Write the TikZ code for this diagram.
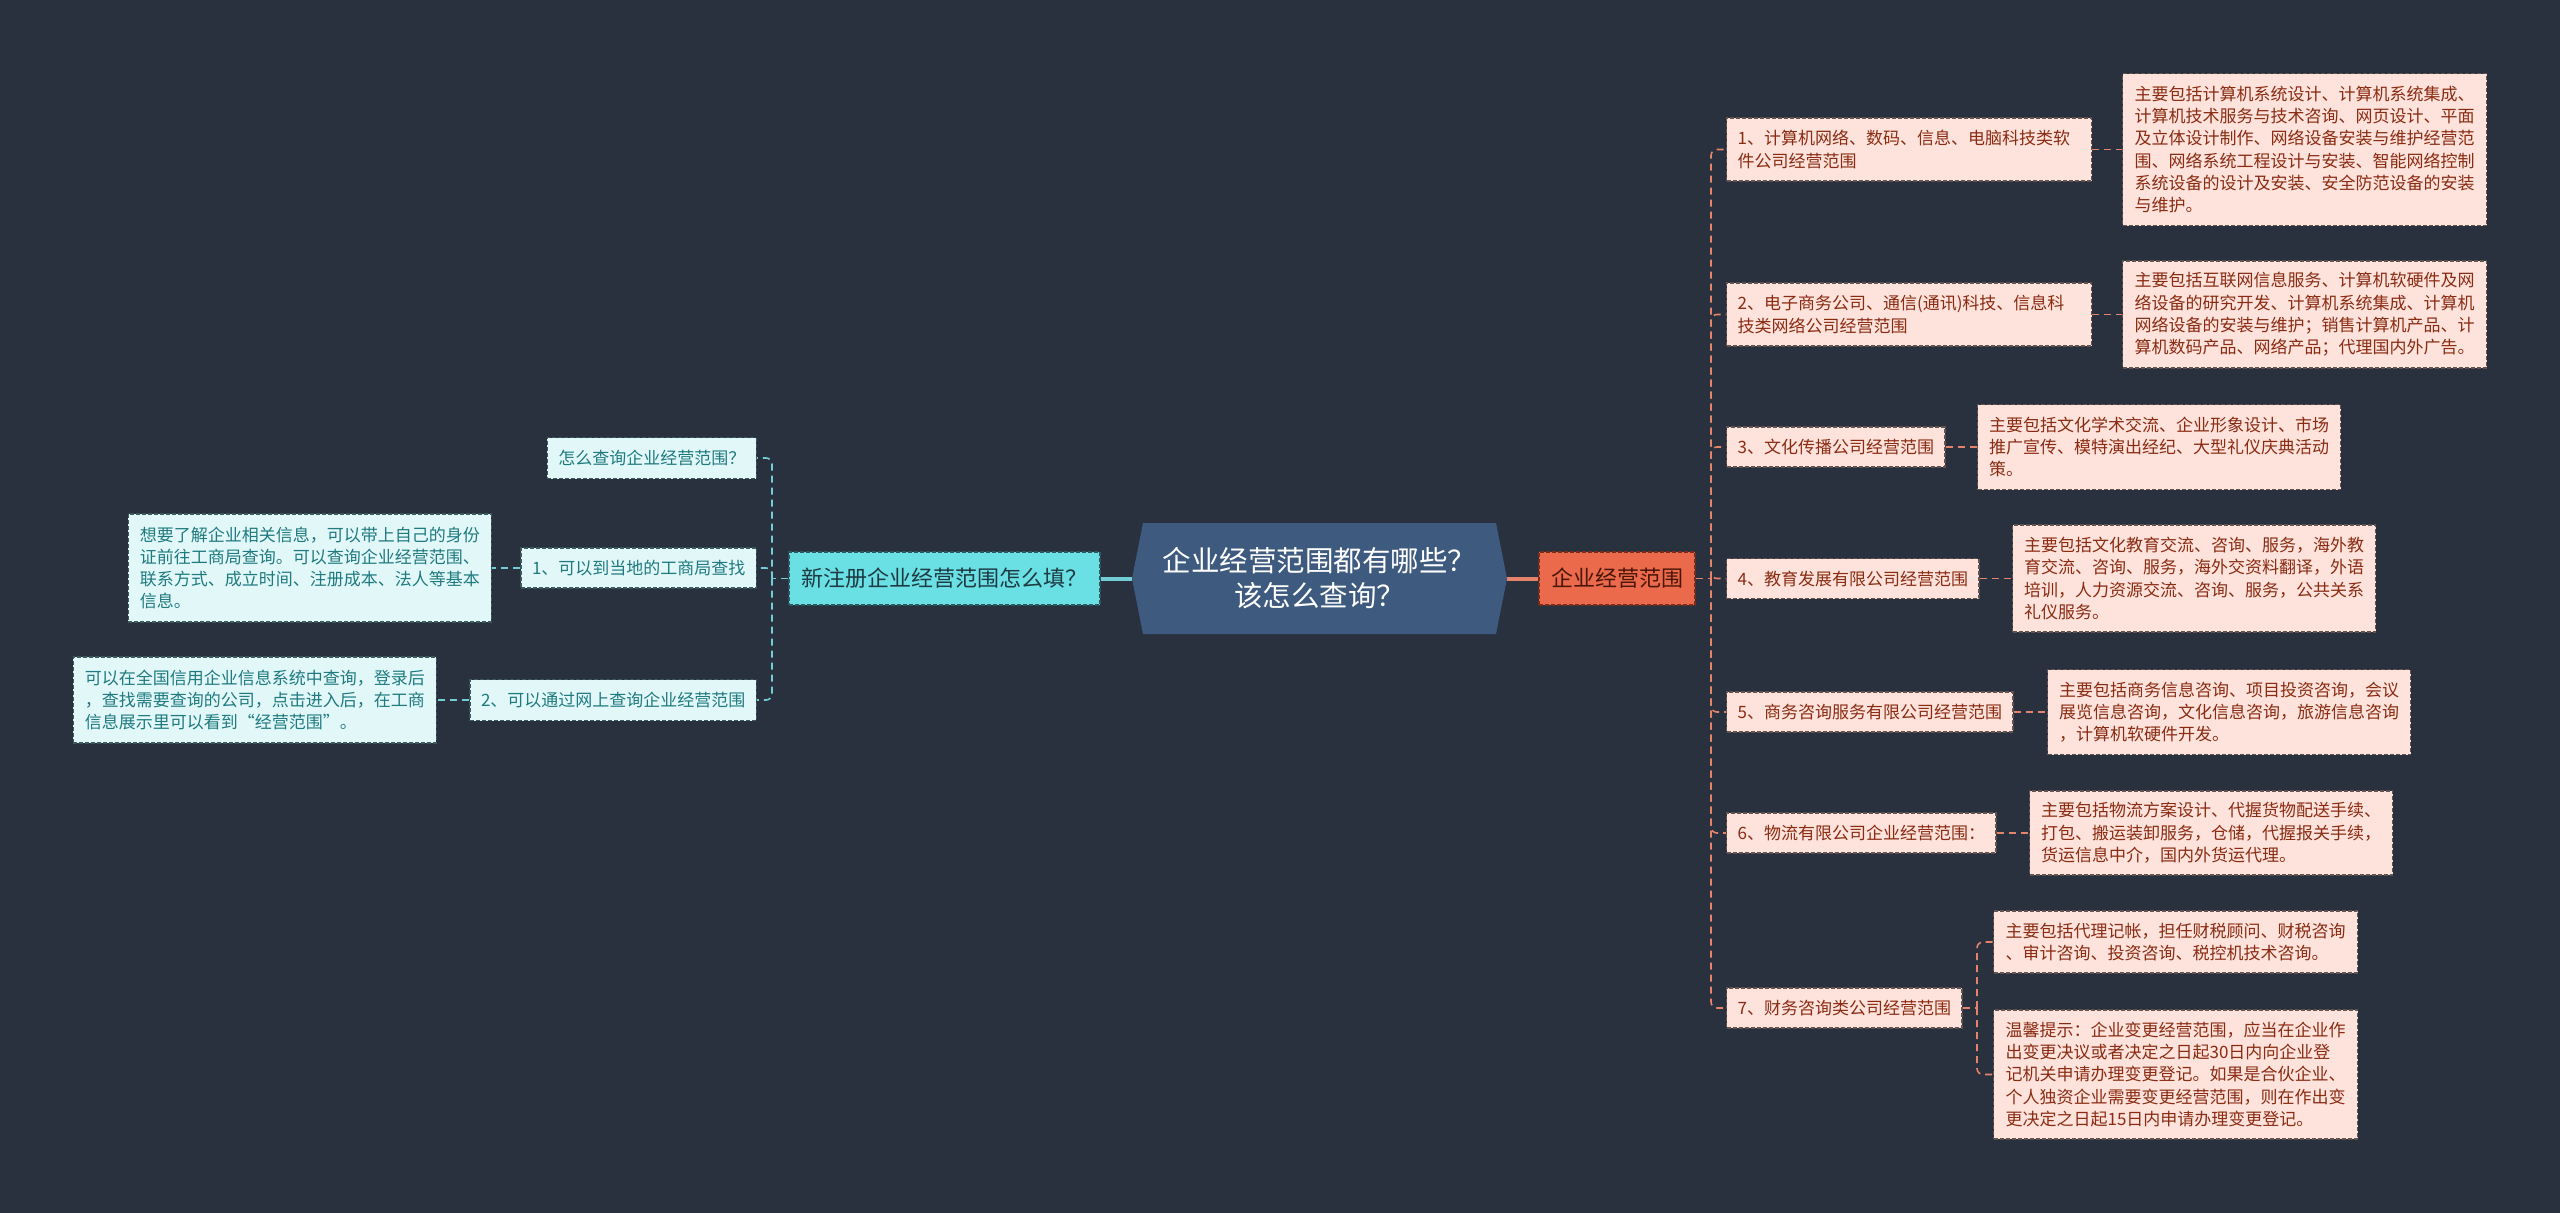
\documentclass[tikz,border=0pt]{standalone}
\usepackage{fontspec}
\setmainfont{Noto Sans CJK SC}
\XeTeXlinebreaklocale "zh"
\XeTeXlinebreakskip=0pt plus 1pt
\definecolor{bgc}{HTML}{29313F}
\definecolor{hexfill}{HTML}{3E5B7F}
\definecolor{cmainfill}{HTML}{6ADFE4}
\definecolor{cmainline}{HTML}{2C5860}
\definecolor{cmaintext}{HTML}{1E3A42}
\definecolor{omainfill}{HTML}{EB6A4B}
\definecolor{omainline}{HTML}{7A2C1A}
\definecolor{omaintext}{HTML}{4A1608}
\definecolor{pinkfill}{HTML}{FDE3DB}
\definecolor{pinkline}{HTML}{625250}
\definecolor{pinktext}{HTML}{8A2B12}
\definecolor{cyanfill}{HTML}{E2F8F8}
\definecolor{cyanline}{HTML}{3A5A5E}
\definecolor{cyantext}{HTML}{1F7A80}
\definecolor{rline}{HTML}{E5836B}
\definecolor{lline}{HTML}{73CDD6}
\begin{document}
\begin{tikzpicture}[x=1pt,y=-1pt,
  box/.style={draw, dash pattern=on 4pt off 2pt, line width=1.1pt, inner xsep=11pt, inner ysep=4pt, align=left, font=\fontsize{17}{22.3}\selectfont},
  pk/.style={box, fill=pinkfill, draw=pinkline, text=pinktext},
  cy/.style={box, fill=cyanfill, draw=cyanline, text=cyantext},
  rconn/.style={draw=rline, line width=1.6pt, dash pattern=on 7pt off 5pt, rounded corners=6pt},
  lconn/.style={draw=lline, line width=1.6pt, dash pattern=on 7pt off 5pt, rounded corners=6pt},
  mainbox/.style={draw, dash pattern=on 4pt off 2pt, line width=1.1pt, minimum height=53pt, inner xsep=12pt, font=\fontsize{22}{26}\selectfont}
]
\fill[bgc] (0,0) rectangle (2560,1213);
\useasboundingbox (0,0) rectangle (2560,1213);

% center
\fill[hexfill] (1132,578.5) -- (1143,523) -- (1496,523) -- (1507,578.5) -- (1496,634) -- (1143,634) -- cycle;
\node[align=center, text=white, minimum width=375pt, minimum height=111pt, font=\fontsize{28.5}{35}\selectfont] (ctr) at (1319.5,578.5) {企业经营范围都有哪些？\\该怎么查询？};

% main nodes
\node[mainbox, fill=cmainfill, draw=cmainline, text=cmaintext, minimum width=311pt] (lmain) at (944.5,578.5) {新注册企业经营范围怎么填？};
\node[mainbox, fill=omainfill, draw=omainline, text=omaintext, minimum width=156pt] (rmain) at (1617,578.5) {企业经营范围};
\draw[line width=4pt, draw=lline] (lmain.east) -- (ctr.west);
\draw[line width=4pt, draw=rline] (ctr.east) -- (rmain.west);

% right items
\node[pk, anchor=west, text width=343pt, minimum height=63pt] (i1) at (1726,149.5) {1、计算机网络、数码、信息、电脑科技类软\\件公司经营范围};
\node[pk, anchor=west, text width=343pt, minimum height=63pt] (i2) at (1726,314.5) {2、电子商务公司、通信(通讯)科技、信息科\\技类网络公司经营范围};
\node[pk, anchor=west, minimum height=40pt] (i3) at (1726,447) {3、文化传播公司经营范围};
\node[pk, anchor=west, minimum height=40pt] (i4) at (1726,578.5) {4、教育发展有限公司经营范围};
\node[pk, anchor=west, minimum height=40pt] (i5) at (1726,712) {5、商务咨询服务有限公司经营范围};
\node[pk, anchor=west, minimum height=40pt] (i6) at (1726,833) {6、物流有限公司企业经营范围：};
\node[pk, anchor=west, minimum height=40pt] (i7) at (1726,1008) {7、财务咨询类公司经营范围};

% right details
\node[pk, anchor=west, minimum width=364pt, minimum height=152pt] (d1) at (2122,149.5) {主要包括计算机系统设计、计算机系统集成、\\计算机技术服务与技术咨询、网页设计、平面\\及立体设计制作、网络设备安装与维护经营范\\围、网络系统工程设计与安装、智能网络控制\\系统设备的设计及安装、安全防范设备的安装\\与维护。};
\node[pk, anchor=west, minimum width=364pt, minimum height=107pt] (d2) at (2122,314.5) {主要包括互联网信息服务、计算机软硬件及网\\络设备的研究开发、计算机系统集成、计算机\\网络设备的安装与维护；销售计算机产品、计\\算机数码产品、网络产品；代理国内外广告。};
\node[pk, anchor=west, minimum width=363pt, minimum height=85pt] (d3) at (1977,447) {主要包括文化学术交流、企业形象设计、市场\\推广宣传、模特演出经纪、大型礼仪庆典活动\\策。};
\node[pk, anchor=west, minimum width=363pt, minimum height=107pt] (d4) at (2012,578.5) {主要包括文化教育交流、咨询、服务，海外教\\育交流、咨询、服务，海外交资料翻译，外语\\培训，人力资源交流、咨询、服务，公共关系\\礼仪服务。};
\node[pk, anchor=west, minimum width=363pt, minimum height=85pt] (d5) at (2047,712) {主要包括商务信息咨询、项目投资咨询，会议\\展览信息咨询，文化信息咨询，旅游信息咨询\\，计算机软硬件开发。};
\node[pk, anchor=west, minimum width=363pt, minimum height=84pt] (d6) at (2029,833) {主要包括物流方案设计、代握货物配送手续、\\打包、搬运装卸服务，仓储，代握报关手续，\\货运信息中介，国内外货运代理。};
\node[pk, anchor=west, minimum width=364pt, minimum height=62pt] (d7a) at (1993,942) {主要包括代理记帐，担任财税顾问、财税咨询\\、审计咨询、投资咨询、税控机技术咨询。};
\node[pk, anchor=west, minimum width=364pt, minimum height=129pt] (d7b) at (1993,1074.5) {温馨提示：企业变更经营范围，应当在企业作\\出变更决议或者决定之日起30日内向企业登\\记机关申请办理变更登记。如果是合伙企业、\\个人独资企业需要变更经营范围，则在作出变\\更决定之日起15日内申请办理变更登记。};

% right connectors
\coordinate (rs) at (1711,578.5);
\draw[rconn] (rmain.east) -- (rs);
\foreach \n in {i1,i2,i3,i4,i5,i6,i7} {\draw[rconn] (rs) |- (\n.west);}
\draw[rconn] (i1.east) -- (d1.west);
\draw[rconn] (i2.east) -- (d2.west);
\draw[rconn] (i3.east) -- (d3.west);
\draw[rconn] (i4.east) -- (d4.west);
\draw[rconn] (i5.east) -- (d5.west);
\draw[rconn] (i6.east) -- (d6.west);
\coordinate (s7) at (1977,1008);
\draw[rconn] (i7.east) -- (s7);
\draw[rconn] (s7) |- (d7a.west);
\draw[rconn] (s7) |- (d7b.west);

% left items
\node[cy, anchor=east, minimum height=41pt] (l0) at (757,458) {怎么查询企业经营范围？};
\node[cy, anchor=east, minimum height=40pt] (l1) at (757,568) {1、可以到当地的工商局查找};
\node[cy, anchor=east, minimum height=41pt] (l2) at (757,700) {2、可以通过网上查询企业经营范围};
\node[cy, anchor=east, minimum width=363pt, minimum height=108pt] (l1d) at (492,568) {想要了解企业相关信息，可以带上自己的身份\\证前往工商局查询。可以查询企业经营范围、\\联系方式、成立时间、注册成本、法人等基本\\信息。};
\node[cy, anchor=east, minimum width=363pt, minimum height=86pt] (l2d) at (437,700) {可以在全国信用企业信息系统中查询，登录后\\，查找需要查询的公司，点击进入后，在工商\\信息展示里可以看到“经营范围”。};

% left connectors
\coordinate (ls) at (772,578.5);
\draw[lconn] (lmain.west) -- (ls);
\foreach \n in {l0,l1,l2} {\draw[lconn] (ls) |- (\n.east);}
\draw[lconn] (l1.west) -- (l1d.east);
\draw[lconn] (l2.west) -- (l2d.east);
\end{tikzpicture}
\end{document}
